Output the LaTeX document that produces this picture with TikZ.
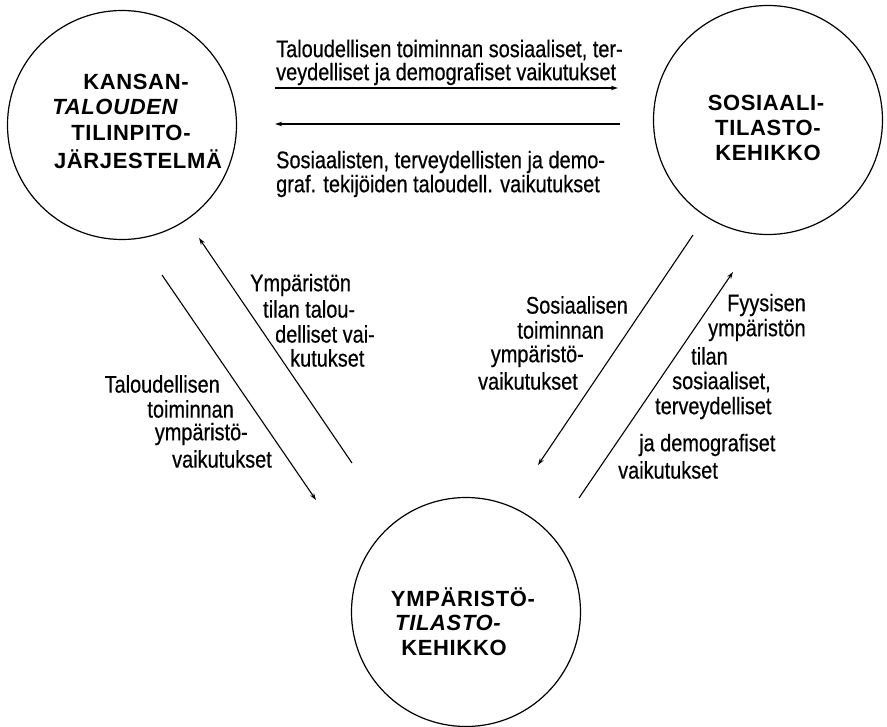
\documentclass[tikz,border=0pt]{standalone}
\usepackage{fontspec}
\setmainfont{Liberation Sans}[FakeStretch=0.83,FakeBold=0.5]
\newfontfamily\titlefont{Liberation Sans}[LetterSpace=3]
\usetikzlibrary{arrows.meta}
\begin{document}
\begin{tikzpicture}[x=1pt,y=-1pt,
  blob/.style={circle,draw,line width=1.2pt,minimum size=229pt,inner sep=0pt},
  ttl/.style={font=\titlefont\fontsize{22}{25}\selectfont\bfseries,inner sep=0pt},
  ttli/.style={font=\titlefont\fontsize{22}{25}\selectfont\bfseries\itshape,inner sep=0pt},
  lbl/.style={font=\fontsize{24}{24}\selectfont,inner sep=0pt},
  flow/.style={line width=1.1pt,-{Stealth[length=7pt,width=4.5pt]}}]
\path[use as bounding box] (0,0) rectangle (887,727);
% circles
\node[blob] (nat) at (122,125) {};
\node[blob] (soc) at (768,120) {};
\node[blob] (env) at (466,612) {};
% titles
\node[ttl] (t1a) at (136,82) {KANSAN-};
\node[ttli] (t1b) at (115,107) {TALOUDEN};
\node[ttl] (t1c) at (131,133) {TILINPITO-};
\node[ttl] (t1d) at (138,159) {JÄRJESTELMÄ};
\node[ttl] (t2a) at (766,103) {SOSIAALI-};
\node[ttl] (t2b) at (768,128) {TILASTO-};
\node[ttl] (t2c) at (768,153) {KEHIKKO};
\node[ttl] (t3a) at (463,597) {YMPÄRISTÖ-};
\node[ttli] (t3b) at (448,623) {TILASTO-};
\node[ttl] (t3c) at (454,648) {KEHIKKO};
% arrow end points
\coordinate (h1s) at (275,88);  \coordinate (h1e) at (618,88);
\coordinate (h2s) at (620,124); \coordinate (h2e) at (275,124);
\coordinate (as) at (352,463);  \coordinate (ae) at (199,238);
\coordinate (bs) at (162,275);  \coordinate (be) at (316,500);
\coordinate (cs) at (693,235);  \coordinate (ce) at (538,465);
\coordinate (ds) at (579,498);  \coordinate (de) at (733,272);
\draw[flow] (h1s) -- (h1e);
\draw[flow] (h2s) -- (h2e);
\draw[flow] (as) -- (ae);
\draw[flow] (bs) -- (be);
\draw[flow] (cs) -- (ce);
\draw[flow] (ds) -- (de);
% top labels
\node[lbl,anchor=west] (u1) at (276,50) {Taloudellisen toiminnan sosiaaliset, ter-};
\node[lbl,anchor=west] (u2) at (276,74) {veydelliset ja demografiset vaikutukset};
\node[lbl,anchor=west] (d1) at (276,162) {Sosiaalisten, terveydellisten ja demo-};
\node[lbl,anchor=west] (d2) at (276,186) {graf. tekijöiden taloudell. vaikutukset};
% left-upper label
\node[lbl,anchor=west] (la1) at (250,285) {Ympäristön};
\node[lbl,anchor=west] (la2) at (263,309) {tilan talou-};
\node[lbl,anchor=west] (la3) at (275,334) {delliset vai-};
\node[lbl,anchor=west] (la4) at (290,358) {kutukset};
% left-lower label
\node[lbl,anchor=east] (lb1) at (220,384) {Taloudellisen};
\node[lbl,anchor=east] (lb2) at (234,409) {toiminnan};
\node[lbl,anchor=east] (lb3) at (248,434) {ympäristö-};
\node[lbl,anchor=east] (lb4) at (272,459) {vaikutukset};
% right-upper label
\node[lbl,anchor=east] (rc1) at (628,305) {Sosiaalisen};
\node[lbl,anchor=east] (rc2) at (604,330) {toiminnan};
\node[lbl,anchor=east] (rc3) at (584,356) {ympäristö-};
\node[lbl,anchor=east] (rc4) at (578,381) {vaikutukset};
% right-lower label
\node[lbl,anchor=west] (rd1) at (727,305) {Fyysisen};
\node[lbl,anchor=west] (rd2) at (708,330) {ympäristön};
\node[lbl,anchor=west] (rd3) at (691,356) {tilan};
\node[lbl,anchor=west] (rd4) at (672,382) {sosiaaliset,};
\node[lbl,anchor=west] (rd5) at (655,408) {terveydelliset};
\node[lbl,anchor=west] (rd6) at (639,445) {ja demografiset};
\node[lbl,anchor=west] (rd7) at (618,470) {vaikutukset};
\end{tikzpicture}
\end{document}
